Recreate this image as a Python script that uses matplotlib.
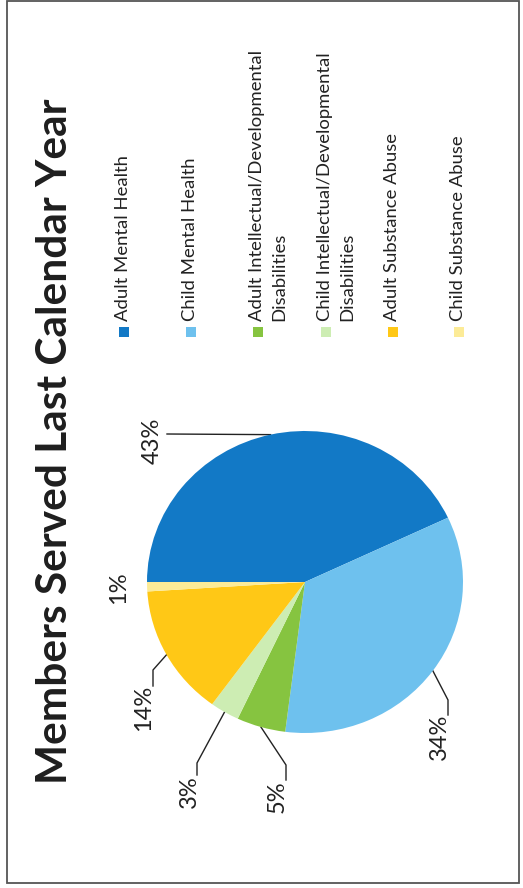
import numpy as np
import matplotlib
matplotlib.use("Agg")
import matplotlib.pyplot as plt
from matplotlib.patches import Rectangle

plt.rcParams['font.family'] = ['Lato', 'DejaVu Sans']

# Share of members served, by program
categories = [
    "Adult Mental Health",
    "Child Mental Health",
    "Adult Intellectual/Developmental\nDisabilities",
    "Child Intellectual/Developmental\nDisabilities",
    "Adult Substance Abuse",
    "Child Substance Abuse",
]
shares = [43, 34, 5, 3, 14, 1]
colors = ["#1279C6", "#6EC1EE", "#86C440", "#CDEDB3", "#FFC816", "#FCEB97"]

W, H = 523, 888
fig = plt.figure(figsize=(W / 100, H / 100), dpi=100)
fig.patch.set_facecolor("white")

# overlay in pixel coordinates for border, labels and legend
ov = fig.add_axes([0, 0, 1, 1])
ov.set_xlim(0, W)
ov.set_ylim(H, 0)
ov.axis("off")

ov.add_patch(Rectangle((6.5, 1.5), 512.5, 881.5, fill=False,
                       edgecolor="#555555", linewidth=1.3))

# pie, centred at (305, 582) px, slightly wider than tall
cx, cy, rx, ry = 305, 582, 158, 151
pax = fig.add_axes([(cx - rx) / W, (H - cy - ry) / H, 2 * rx / W, 2 * ry / H])
wedges, _ = pax.pie(shares, colors=colors, startangle=180, counterclock=False,
                    radius=1.0, wedgeprops=dict(linewidth=0))
pax.set_xlim(-1, 1)
pax.set_ylim(-1, 1)
pax.set_aspect("auto")
pax.axis("off")

# title, reads bottom-to-top
ov.text(55, 441, "Members Served Last Calendar Year", rotation=90,
        ha="center", va="center", fontsize=30.5, fontweight="bold",
        color="#1e1e1e")

# percentage labels with leader elbows (elbow, end, text centre in px)
label_pos = [
    (None, (167, 434), (152, 441)),
    ((448, 700), (448, 715), (439, 737)),
    ((286, 765), (286, 780), (277, 797)),
    ((197, 763), (197, 775), (189, 792)),
    ((153, 670), (153, 686), (144, 708)),
    (None, None, (119, 588)),
]
for w, val, (elbow, end, tpos) in zip(wedges, shares, label_pos):
    mid = np.deg2rad((w.theta1 + w.theta2) / 2)
    sx = cx + rx * np.cos(mid)
    sy = cy - ry * np.sin(mid)
    if end is not None:
        pts = [(sx, sy)] + ([elbow] if elbow else []) + [end]
        xs, ys = zip(*pts)
        ov.plot(xs, ys, color="#222222", linewidth=1.0)
    ov.text(tpos[0], tpos[1], f"{val}%", rotation=90, ha="center",
            va="center", fontsize=17, color="#222222")

# legend column: square marker then label running upward
leg_x = [124, 191, 258, 326, 393, 459]
for x, lab, c in zip(leg_x, categories, colors):
    ov.add_patch(Rectangle((x - 5, 327), 10, 10, facecolor=c, edgecolor="none"))
    ov.text(x - 9, 321, lab, rotation=90, ha="left", va="top",
            fontsize=13.3, color="#222222", linespacing=1.5,
            rotation_mode="anchor")

fig.savefig("out.png", dpi=100, facecolor="white")
